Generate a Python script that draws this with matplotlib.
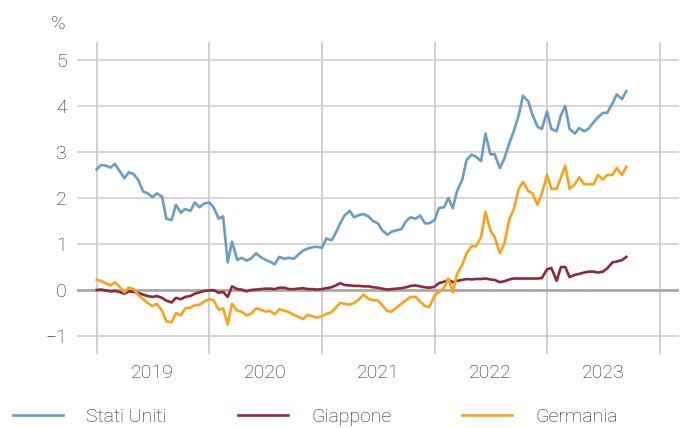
import matplotlib
matplotlib.use("Agg")
import matplotlib.pyplot as plt
import pandas as pd

# 10-year government bond yields, semi-monthly (1st and 15th)
dates = pd.date_range("2019-01-01", "2023-09-15", freq="SMS")

stati_uniti = [
    2.62, 2.72, 2.70, 2.66, 2.74, 2.60, 2.43, 2.56, 2.52, 2.40, 2.14, 2.10,
    2.02, 2.10, 2.03, 1.55, 1.52, 1.85, 1.68, 1.76, 1.72, 1.90, 1.80, 1.88,  # 2019
    1.90, 1.80, 1.55, 1.60, 0.60, 1.05, 0.65, 0.70, 0.64, 0.68, 0.80, 0.72,
    0.66, 0.62, 0.56, 0.72, 0.68, 0.70, 0.68, 0.76, 0.86, 0.90, 0.93, 0.94,  # 2020
    0.92, 1.12, 1.08, 1.25, 1.45, 1.62, 1.72, 1.58, 1.63, 1.65, 1.60, 1.50,
    1.45, 1.30, 1.20, 1.27, 1.30, 1.32, 1.50, 1.58, 1.55, 1.62, 1.45, 1.45,  # 2021
    1.52, 1.78, 1.80, 2.00, 1.78, 2.15, 2.40, 2.83, 2.94, 2.90, 2.80, 3.40,
    2.95, 2.95, 2.65, 2.85, 3.20, 3.45, 3.80, 4.22, 4.10, 3.80, 3.55, 3.50,  # 2022
    3.88, 3.50, 3.45, 3.80, 4.00, 3.50, 3.40, 3.52, 3.45, 3.50, 3.65, 3.75,
    3.85, 3.85, 4.05, 4.25, 4.15, 4.32,  # 2023
]
giappone = [
    0.00, 0.01, -0.01, -0.03, -0.02, -0.04, -0.08, -0.03, -0.04, -0.06, -0.10, -0.13,
    -0.15, -0.13, -0.17, -0.23, -0.27, -0.17, -0.20, -0.15, -0.13, -0.08, -0.05, -0.02,
    -0.01, 0.00, -0.06, -0.04, -0.15, 0.08, 0.02, 0.01, -0.03, 0.00, 0.01, 0.02,
    0.03, 0.03, 0.02, 0.05, 0.05, 0.02, 0.02, 0.03, 0.04, 0.02, 0.02, 0.01,
    0.02, 0.04, 0.06, 0.10, 0.15, 0.11, 0.10, 0.09, 0.09, 0.08, 0.08, 0.06,
    0.05, 0.03, 0.01, 0.02, 0.03, 0.04, 0.06, 0.09, 0.10, 0.08, 0.06, 0.05,
    0.07, 0.15, 0.18, 0.22, 0.17, 0.20, 0.22, 0.24, 0.23, 0.24, 0.24, 0.25,
    0.23, 0.22, 0.17, 0.19, 0.23, 0.25, 0.25, 0.25, 0.25, 0.25, 0.25, 0.26,
    0.45, 0.48, 0.20, 0.50, 0.50, 0.28, 0.33, 0.35, 0.38, 0.40, 0.40, 0.38,
    0.40, 0.47, 0.60, 0.62, 0.65, 0.72,
]
germania = [
    0.22, 0.20, 0.14, 0.10, 0.17, 0.08, -0.05, 0.05, 0.02, -0.10, -0.20, -0.28,
    -0.35, -0.30, -0.45, -0.68, -0.70, -0.50, -0.55, -0.40, -0.38, -0.33, -0.32, -0.25,
    -0.20, -0.22, -0.43, -0.40, -0.75, -0.30, -0.45, -0.47, -0.55, -0.52, -0.40, -0.42,
    -0.47, -0.45, -0.53, -0.42, -0.45, -0.48, -0.54, -0.58, -0.63, -0.54, -0.57, -0.60,
    -0.57, -0.52, -0.48, -0.38, -0.28, -0.30, -0.32, -0.28, -0.20, -0.10, -0.19, -0.22,
    -0.22, -0.33, -0.46, -0.47, -0.37, -0.30, -0.22, -0.15, -0.15, -0.25, -0.35, -0.37,
    -0.12, -0.05, 0.05, 0.25, -0.05, 0.35, 0.55, 0.80, 0.95, 0.95, 1.15, 1.70,
    1.30, 1.15, 0.80, 1.00, 1.55, 1.75, 2.20, 2.35, 2.15, 2.10, 1.85, 2.10,
    2.50, 2.20, 2.20, 2.45, 2.70, 2.20, 2.30, 2.45, 2.30, 2.30, 2.30, 2.50,
    2.40, 2.50, 2.50, 2.65, 2.50, 2.68,
]

series = [
    ("Stati Uniti", stati_uniti, "#6a9cc4"),
    ("Giappone", giappone, "#8e2a38"),
    ("Germania", germania, "#f6a31e"),
]
years = [2019, 2020, 2021, 2022, 2023]

plt.rcParams["font.family"] = ["Roboto", "DejaVu Sans"]
plt.rcParams["font.weight"] = "light"

fig = plt.figure(figsize=(6.86, 4.28), dpi=100)
ax = fig.add_axes([0.1122, 0.1729, 0.8776, 0.729])

for name, vals, col in series:
    ax.plot(dates, vals, color=col, lw=1.9, label=name, solid_joinstyle="round")

ax.set_ylim(-1.39, 5.39)
ax.set_xlim(pd.Timestamp("2018-10-29"), pd.Timestamp("2024-03-04"))

ax.set_yticks(range(-1, 6))
ax.set_yticklabels([str(v).replace("-", "\u2212") for v in range(-1, 6)])
ax.yaxis.grid(True, color="#d0d0d0", lw=1.2)
ax.axhline(0, color="#aaaaaa", lw=2.0, zorder=1.5)

# year boundaries as vertical grid, labels in the middle of each year
for y in years + [2024]:
    ax.axvline(pd.Timestamp(f"{y}-01-01"), color="#c8c8c8", lw=1.2, zorder=0)
ax.set_xticks([pd.Timestamp(f"{y}-07-02") for y in years])
ax.set_xticklabels([str(y) for y in years])

ax.tick_params(length=0, labelsize=14, colors="#222222")
ax.tick_params(axis="x", pad=7.5)
ax.tick_params(axis="y", pad=7.2)
for s in ax.spines.values():
    s.set_visible(False)
ax.set_axisbelow(True)

fig.text(58 / 686, 1 - 24 / 428, "%", fontsize=14, color="#222222",
         ha="center", va="center")

fig.legend(loc="center left", bbox_to_anchor=(13 / 686, 1 - 417 / 428), ncol=3,
           frameon=False, fontsize=14, handlelength=2.58, handletextpad=1.19,
           columnspacing=3.65, borderpad=0, borderaxespad=0,
           labelcolor="#222222")

fig.savefig("out.png", dpi=100)
